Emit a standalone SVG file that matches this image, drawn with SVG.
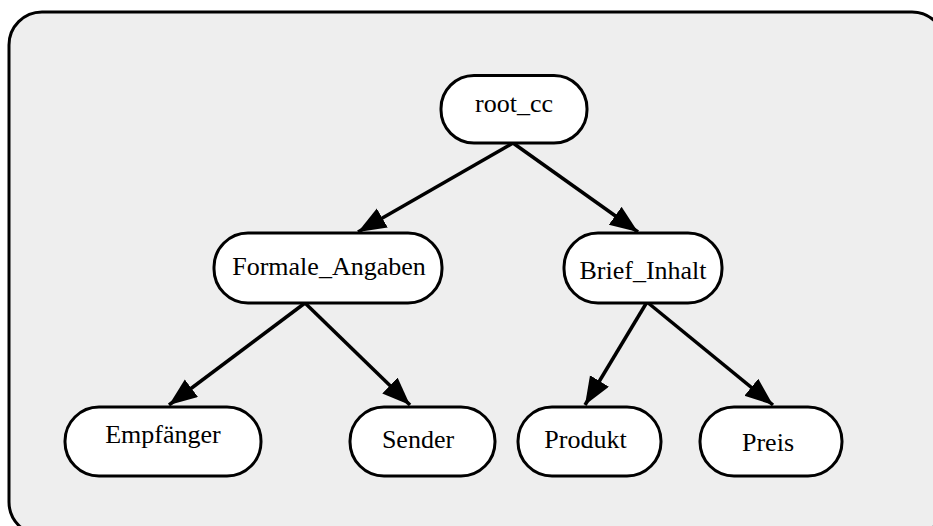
<svg xmlns="http://www.w3.org/2000/svg" width="933" height="526" viewBox="0 0 933 526">
<style>
.frame{fill:#eeeeee;stroke:#000;stroke-width:3}
.node rect{fill:#fff;stroke:#000;stroke-width:3}
.node text{font-family:"Liberation Serif","Times New Roman",serif;font-size:26px;fill:#000;text-anchor:middle}
.edge{stroke:#000;stroke-width:3.5;fill:none;marker-end:url(#arr)}
</style>
<defs>
<marker id="arr" markerUnits="userSpaceOnUse" markerWidth="30" markerHeight="24" refX="28" refY="11" orient="auto">
<path d="M0,0 L28,11 L0,22 Z" fill="#000"/>
</marker>
</defs>
<rect class="frame" x="9" y="12" width="936" height="523" rx="33"/>
<g id="connectors">
<line class="edge" x1="513" y1="143" x2="358" y2="232"/>
<line class="edge" x1="513" y1="143" x2="638" y2="232"/>
<line class="edge" x1="305" y1="303" x2="169" y2="405"/>
<line class="edge" x1="305" y1="303" x2="410" y2="405"/>
<line class="edge" x1="647" y1="302" x2="585" y2="405"/>
<line class="edge" x1="647" y1="302" x2="773" y2="405"/>
</g>
<g id="root_cc" class="node">
<rect x="441" y="75.5" width="146" height="67.5" rx="33"/>
<text x="514" y="112">root_cc</text>
</g>
<g id="Formale_Angaben" class="node">
<rect x="214" y="233" width="228" height="70" rx="34"/>
<text x="329" y="275">Formale_Angaben</text>
</g>
<g id="Brief_Inhalt" class="node">
<rect x="564" y="233" width="158" height="70" rx="34"/>
<text x="643" y="279">Brief_Inhalt</text>
</g>
<g id="Empfaenger" class="node">
<rect x="65" y="407" width="196" height="69" rx="34"/>
<text x="163" y="443">Empfänger</text>
</g>
<g id="Sender" class="node">
<rect x="350" y="407" width="145" height="69" rx="34"/>
<text x="418" y="448">Sender</text>
</g>
<g id="Produkt" class="node">
<rect x="518" y="407" width="143" height="69" rx="34"/>
<text x="585.5" y="448">Produkt</text>
</g>
<g id="Preis" class="node">
<rect x="700" y="407" width="142" height="69" rx="34"/>
<text x="768" y="450.5">Preis</text>
</g>
</svg>
